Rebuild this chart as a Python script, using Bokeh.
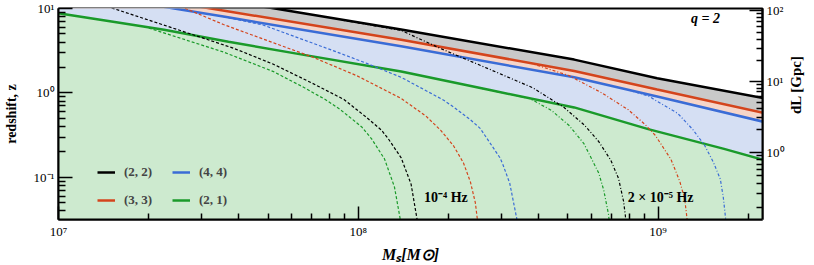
import numpy as np
from bokeh.plotting import figure
from bokeh.models import (LogAxis, FixedTicker, CustomJSTickFormatter, Label,
                          Legend, LegendItem, Range1d)
from bokeh.embed import file_html
from bokeh.resources import INLINE

# ---------------- data ----------------
# horizon curves z(M_s) for each mode, q = 2
M_22 = [1.0e7, 5.27e7, 1.39e8, 5.25e8, 9.93e8, 2.24e9]
z_22 = [25.7, 10.0, 5.65, 2.48, 1.49, 0.869]
M_33 = [1.0e7, 3.22e7, 1.39e8, 5.25e8, 9.93e8, 2.24e9]
z_33 = [19.8, 10.0, 4.26, 1.82, 1.096, 0.580]
M_44 = [1.0e7, 2.43e7, 3.55e7, 1.39e8, 5.25e8, 9.93e8, 2.24e9]
z_44 = [16.8, 10.0, 8.02, 3.57, 1.53, 0.905, 0.456]
M_21 = [1.0e7, 1.54e7, 2.25e7, 3.69e7, 6.51e7, 1.39e8, 2.75e8, 5.25e8, 9.27e8, 1.66e9, 2.24e9]
z_21 = [8.77, 6.92, 5.61, 4.04, 2.84, 1.79, 1.08, 0.673, 0.372, 0.217, 0.1615]

# low-frequency cut 1e-4 Hz (dashed)
M_22_f4 = [1.45e7, 2.43e7, 3.83e7, 5.19e7, 7.03e7, 8.96e7, 1.067e8, 1.195e8, 1.26e8,
           1.39e8, 1.50e8, 1.57e8, 1.588e8]
z_22_f4 = [10.6, 5.80, 3.39, 2.20, 1.30, 0.835, 0.51, 0.362, 0.285,
           0.170, 0.083, 0.032, 0.02]
M_33_f4 = [2.55e7, 3.55e7, 7.03e7, 9.88e7, 1.39e8, 1.682e8, 1.884e8, 2.08e8, 2.243e8,
           2.366e8, 2.457e8, 2.495e8, 2.525e8]
z_33_f4 = [10.6, 6.46, 2.66, 1.60, 0.86, 0.53, 0.36, 0.235, 0.148,
           0.088, 0.05, 0.032, 0.02]
M_44_f4 = [3.55e7, 4.81e7, 8.18e7, 1.067e8, 1.39e8, 1.927e8, 2.08e8, 2.366e8, 2.55e8,
           2.97e8, 3.04e8, 3.20e8, 3.38e8, 3.42e8]
z_44_f4 = [8.0, 6.38, 3.20, 2.24, 1.53, 0.82, 0.68, 0.48, 0.38,
           0.17, 0.14, 0.085, 0.032, 0.02]
M_21_f4 = [1.93e7, 3.55e7, 5.19e7, 6.51e7, 7.76e7, 8.69e7, 1.027e8, 1.108e8, 1.223e8,
           1.32e8, 1.38e8, 1.396e8]
z_21_f4 = [6.11, 3.05, 1.80, 1.185, 0.835, 0.638, 0.395, 0.285, 0.165,
           0.077, 0.032, 0.02]

# low-frequency cut 2e-5 Hz (dash-dot)
M_22_f5 = [8.82e7, 1.39e8, 1.884e8, 2.61e8, 3.82e8, 4.86e8, 5.66e8, 6.34e8, 6.95e8,
           7.38e8, 7.67e8, 7.78e8, 7.89e8]
z_22_f5 = [7.30, 5.50, 3.35, 2.05, 1.15, 0.67, 0.42, 0.265, 0.16,
           0.097, 0.052, 0.0348, 0.02]
M_33_f5 = [3.73e8, 5.05e8, 6.49e8, 7.96e8, 9.06e8, 9.78e8, 1.104e9, 1.182e9, 1.227e9,
           1.246e9, 1.265e9]
z_33_f5 = [2.27, 1.60, 1.0, 0.63, 0.42, 0.315, 0.163, 0.089, 0.055,
           0.0348, 0.02]
M_44_f5 = [7.96e8, 9.27e8, 1.164e9, 1.304e9, 1.429e9, 1.53e9, 1.613e9, 1.65e9, 1.675e9,
           1.70e9]
z_44_f5 = [1.086, 0.92, 0.57, 0.37, 0.24, 0.15, 0.095, 0.058, 0.0357, 0.02]
M_21_f5 = [2.55e8, 3.73e8, 4.41e8, 5.05e8, 5.66e8, 6.34e8, 6.59e8, 6.84e8, 6.94e8]
z_21_f5 = [1.14, 0.858, 0.62, 0.41, 0.25, 0.112, 0.07, 0.0357, 0.02]

labels = ["(2, 2)", "(3, 3)", "(4, 4)", "(2, 1)"]

# axis ticks
X_MAJOR = [1e7, 1e8, 1e9]
Y_MAJOR = [0.1, 1.0, 10.0]
DL_MAJOR = [1.0, 10.0, 100.0]          # Gpc
DL_LABELS = ["10\u2070", "10\u00b9", "10\u00b2"]

# ---------------- styles ----------------
BLACK, RED, BLUE, GREEN = "#000000", "#d4441c", "#3a6cd6", "#1a9a2a"
F_GRAY, F_RED, F_BLUE, F_GREEN = "#c9c9c9", "#f6d5c8", "#d5dff3", "#cdeacf"
SERIF = "Liberation Serif"

# ---------------- cosmology for the d_L axis ----------------
def z_of_dl(dl_gpc):
    zg = np.linspace(0, 15, 30001)
    ez = np.sqrt(0.3089 * (1 + zg) ** 3 + 0.6911)
    inv = 1.0 / ez
    dc = np.concatenate([[0.0], np.cumsum(0.5 * (inv[1:] + inv[:-1]) * np.diff(zg))])
    dc *= 299792.458 / 67.74 / 1000.0
    dl = (1 + zg) * dc
    return np.interp(dl_gpc, dl, zg)

p = figure(width=814, height=265, x_axis_type="log", y_axis_type="log",
           x_range=Range1d(1e7, 2.23e9), y_range=Range1d(0.0316, 10.0),
           output_backend="svg", toolbar_location=None,
           min_border_left=53, min_border_right=48, min_border_top=8,
           min_border_bottom=44)
p.grid.visible = False
p.outline_line_color = "black"
p.outline_line_width = 2
p.background_fill_color = "white"
p.border_fill_color = "white"

# fills
for M, z, c in [(M_22, z_22, F_GRAY), (M_33, z_33, F_RED),
                (M_44, z_44, F_BLUE), (M_21, z_21, F_GREEN)]:
    p.varea(x=M, y1=[1e-3] * len(M), y2=z, fill_color=c)

# solid horizon lines
r22 = p.line(M_22, z_22, line_color=BLACK, line_width=2.5)
r33 = p.line(M_33, z_33, line_color=RED, line_width=2.5)
r44 = p.line(M_44, z_44, line_color=BLUE, line_width=2.5)
r21 = p.line(M_21, z_21, line_color=GREEN, line_width=2.5)

# frequency-cut lines
for M, z, c in [(M_22_f4, z_22_f4, BLACK), (M_33_f4, z_33_f4, RED),
                (M_44_f4, z_44_f4, BLUE), (M_21_f4, z_21_f4, GREEN)]:
    p.line(M, z, line_color=c, line_width=1.2, line_dash="3 2",
           line_join="round")
for M, z, c in [(M_22_f5, z_22_f5, BLACK), (M_33_f5, z_33_f5, RED),
                (M_44_f5, z_44_f5, BLUE), (M_21_f5, z_21_f5, GREEN)]:
    p.line(M, z, line_color=c, line_width=1.2, line_dash="3 2 1 2",
           line_join="round")

SUP_JS = """
const s = {"-":"\u207b","0":"\u2070","1":"\u00b9","2":"\u00b2","3":"\u00b3","4":"\u2074",
           "5":"\u2075","6":"\u2076","7":"\u2077","8":"\u2078","9":"\u2079"};
const e = Math.round(Math.log10(tick));
return "10" + String(e).split("").map(c => s[c]).join("");
"""

def style_axis(ax, major_len, minor_len):
    ax.axis_line_width = 2
    ax.axis_line_color = "black"
    ax.major_tick_line_width = 1.5
    ax.minor_tick_line_width = 1.5
    ax.major_tick_line_color = "black"
    ax.minor_tick_line_color = "black"
    ax.major_tick_in = major_len
    ax.major_tick_out = 0
    ax.minor_tick_in = minor_len
    ax.minor_tick_out = 0
    ax.major_label_standoff = 4
    ax.major_label_text_font = SERIF
    ax.major_label_text_font_size = "13px"
    ax.major_label_text_color = "black"
    ax.axis_label_text_font = SERIF
    ax.axis_label_text_color = "black"

xminor = [k * t for t in X_MAJOR for k in range(2, 10)]
xa = p.xaxis[0]
xa.ticker = FixedTicker(ticks=X_MAJOR, minor_ticks=xminor)
xa.formatter = CustomJSTickFormatter(code=SUP_JS)
style_axis(xa, 13, 6)
xa.axis_label = "M\u209b[M\u2299]"
xa.axis_label_text_font_size = "16px"
xa.axis_label_text_font_style = "bold italic"
xa.axis_label_standoff = 4

yminor = [k * 0.01 for k in range(4, 10)] + \
         [k * t for t in Y_MAJOR[:2] for k in range(2, 10)]
ya = p.yaxis[0]
ya.ticker = FixedTicker(ticks=Y_MAJOR, minor_ticks=yminor)
ya.formatter = CustomJSTickFormatter(code=SUP_JS)
style_axis(ya, 14, 7)
ya.axis_label = "redshift, z"
ya.axis_label_text_font_size = "14px"
ya.axis_label_text_font_style = "bold"
ya.axis_label_standoff = 12

# right axis: luminosity distance
dl_minor = [k * t / 10 for t in DL_MAJOR for k in range(2, 10)]
zr_major = [float(v) for v in z_of_dl(np.array(DL_MAJOR))]
zr_minor = [float(v) for v in z_of_dl(np.array(dl_minor))]
ra = LogAxis(ticker=FixedTicker(ticks=zr_major, minor_ticks=zr_minor),
             formatter=CustomJSTickFormatter(args=dict(zs=zr_major, labs=DL_LABELS), code="""
for (let i = 0; i < zs.length; i++) {
  if (Math.abs(tick - zs[i]) <= 1e-6 * zs[i]) return labs[i];
}
return "";
"""))
style_axis(ra, 13, 6)
ra.axis_label = "dL [Gpc]"
ra.axis_label_text_font_size = "15px"
ra.axis_label_text_font_style = "bold"
ra.axis_label_standoff = 8
ra.axis_label_orientation = np.pi / 2
p.add_layout(ra, "right")

# legend
legend = Legend(items=[LegendItem(label=labels[0], renderers=[r22]),
                       LegendItem(label=labels[1], renderers=[r33]),
                       LegendItem(label=labels[2], renderers=[r44]),
                       LegendItem(label=labels[3], renderers=[r21])],
                ncols=2, location=(39, 9), padding=0, margin=0, spacing=8,
                glyph_width=18, glyph_height=20, label_height=20, label_width=40,
                label_standoff=9, background_fill_alpha=0, border_line_alpha=0,
                label_text_font=SERIF, label_text_font_style="bold",
                label_text_font_size="13px")
p.add_layout(legend)

# annotations inside the plot
def lab(**kw):
    base = dict(text_font=SERIF, text_font_style="bold", text_font_size="14px",
                text_color="black")
    base.update(kw)
    p.add_layout(Label(**base))

lab(x=1.96e8, y=0.058, text="10\u207b\u2074 Hz", text_align="center", text_baseline="middle")
lab(x=1.02e9, y=0.058, text="2 \u00d7 10\u207b\u2075 Hz", text_align="center", text_baseline="middle")
lab(x=1.44e9, y=7.6, text="q = 2", text_align="center", text_baseline="middle",
    text_font_style="bold italic")

open("out.html", "w").write(file_html(p, INLINE))
